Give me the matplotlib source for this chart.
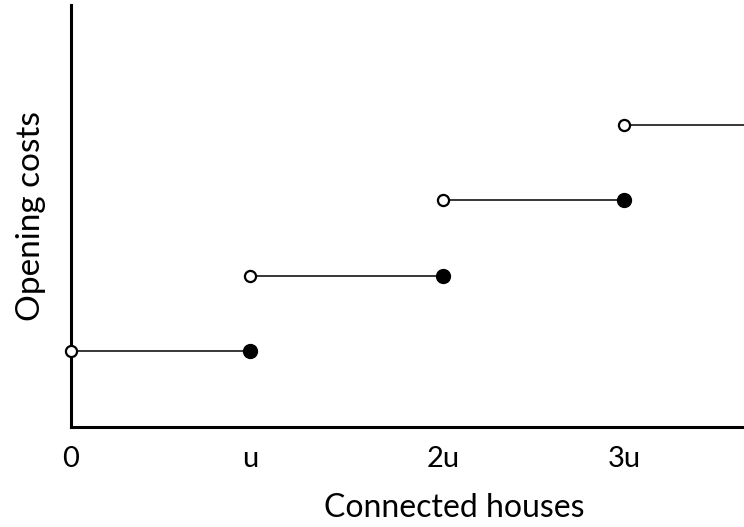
import matplotlib.pyplot as plt

plt.rcParams['font.family'] = ['Lato', 'DejaVu Sans']

# step function: each level runs from an open start to a filled end
starts = [0, 1.0, 2.08, 3.09]
ends = [1.0, 2.08, 3.09, 3.76]
levels = [1.01, 2.01, 3.03, 4.03]
tick_pos = [0, 1.0, 2.08, 3.09]
tick_labels = ['0', 'u', '2u', '3u']

fig = plt.figure(figsize=(7.44, 5.27), dpi=100)
ax = fig.add_axes([71/744, 1-427/527, 1-71/744, 422/527])

for i in range(len(levels)):
    ax.plot([starts[i], ends[i]], [levels[i], levels[i]], color='black', lw=1.1, clip_on=False, zorder=2)
    ax.plot(starts[i], levels[i], 'o', ms=8, mfc='white', mec='black', mew=1.6, clip_on=False, zorder=4)
    if i < len(levels) - 1:
        ax.plot(ends[i], levels[i], 'o', ms=10, color='black', clip_on=False, zorder=4)

ax.set_xlim(0, 3.76)
ax.set_ylim(0, 5.63)
ax.spines['top'].set_visible(False)
ax.spines['right'].set_visible(False)
ax.spines['left'].set_linewidth(2.2)
ax.spines['bottom'].set_linewidth(2.2)
ax.set_yticks([])
ax.set_xticks(tick_pos)
ax.set_xticklabels(tick_labels, fontsize=21)
ax.tick_params(axis='x', length=0, pad=14)
ax.set_xlabel('Connected houses', fontsize=23, labelpad=15, x=0.57)
ax.set_ylabel('Opening costs', fontsize=24, labelpad=18)

plt.savefig('out.png', dpi=100)
